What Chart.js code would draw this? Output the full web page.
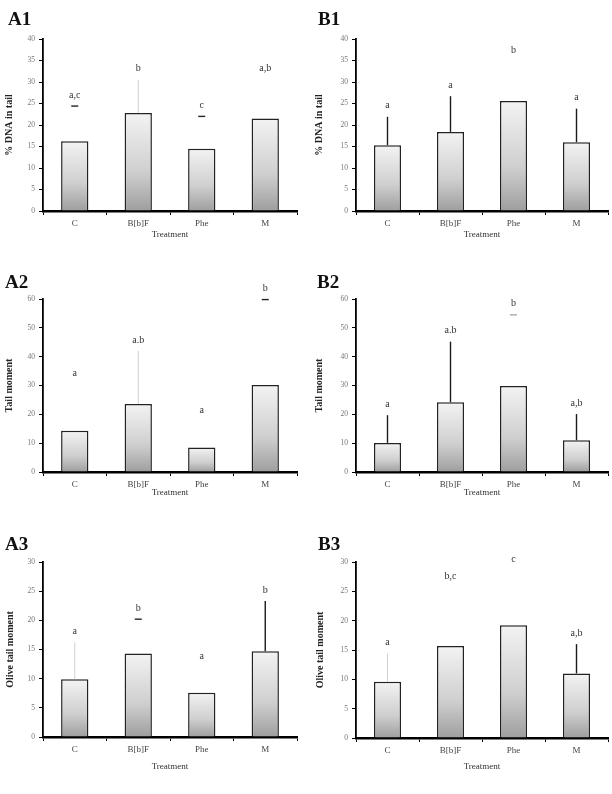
<!DOCTYPE html>
<html>
<head>
<meta charset="utf-8">
<script src="https://cdn.jsdelivr.net/npm/chart.js@4.4.1/dist/chart.umd.min.js"></script>
<style>
  body { margin: 0; background: #fff; }
  #page { position: relative; width: 612px; height: 794px; overflow: hidden; }
  canvas { position: absolute; }
  .tag { position: absolute; font: bold 19px 'Liberation Serif', serif; line-height: 1; color: #111; }
</style>
</head>
<body>
<div id="page">
  <canvas id="a1" width="306" height="255" style="left:0;top:0"></canvas>
  <canvas id="b1" width="306" height="255" style="left:306px;top:0"></canvas>
  <canvas id="a2" width="306" height="260" style="left:0;top:255px"></canvas>
  <canvas id="b2" width="306" height="260" style="left:306px;top:255px"></canvas>
  <canvas id="a3" width="306" height="279" style="left:0;top:515px"></canvas>
  <canvas id="b3" width="306" height="279" style="left:306px;top:515px"></canvas>
  <div class="tag" style="left:8px;top:9px">A1</div>
  <div class="tag" style="left:318px;top:9px">B1</div>
  <div class="tag" style="left:5px;top:272px">A2</div>
  <div class="tag" style="left:317px;top:272px">B2</div>
  <div class="tag" style="left:5px;top:534px">A3</div>
  <div class="tag" style="left:318px;top:534px">B3</div>
</div>
<script>
// data (means, SD, significance letters)
var categories = ['C', 'B[b]F', 'Phe', 'M'];

var ticksDna = [0, 5, 10, 15, 20, 25, 30, 35, 40];
var ticksTail = [0, 10, 20, 30, 40, 50, 60];
var ticksOlive = [0, 5, 10, 15, 20, 25, 30];

var a1Mean = [16.2, 22.8, 14.5, 21.5];
var a1Sd = [8.2, 7.7, 7.5, 9.2];
var a1Letters = ['a,c', 'b', 'c', 'a,b'];

var b1Mean = [15.3, 18.4, 25.6, 16.0];
var b1Sd = [6.6, 8.3, 9.1, 7.8];
var b1Letters = ['a', 'a', 'b', 'a'];

var a2Mean = [14.3, 23.6, 8.5, 30.2];
var a2Sd = [16.2, 18.4, 8.9, 29.6];
var a2Letters = ['a', 'a.b', 'a', 'b'];

var b2Mean = [10.1, 24.2, 29.8, 11.0];
var b2Sd = [9.6, 21.0, 24.7, 9.1];
var b2Letters = ['a', 'a.b', 'b', 'a,b'];

var a3Mean = [9.9, 14.3, 7.6, 14.7];
var a3Sd = [6.3, 5.9, 4.4, 8.6];
var a3Letters = ['a', 'b', 'a', 'b'];

var b3Mean = [9.6, 15.7, 19.2, 11.0];
var b3Sd = [4.8, 10.0, 9.4, 5.0];
var b3Letters = ['a', 'b,c', 'c', 'a,b'];

// how each error bar looks in the scan (some are faded out)
var a1Err = ['cap', 'faint', 'cap', 'none'];
var b1Err = ['black', 'black', 'none', 'black'];
var a2Err = ['none', 'faint', 'none', 'cap'];
var b2Err = ['black', 'black', 'capfaint', 'black'];
var a3Err = ['faint', 'cap', 'none', 'black'];
var b3Err = ['faint', 'none', 'none', 'black'];

var serif = "'Liberation Serif', 'Times New Roman', serif";

// error bars + letters above each bar
var marksPlugin = {
    id: 'marks',
    afterDatasetsDraw: function(chart, args, opts) {
        var c = chart.ctx, y = chart.scales.y;
        var meta = chart.getDatasetMeta(0);
        var values = chart.data.datasets[0].data;
        c.save();
        meta.data.forEach(function(bar, i) {
            var x = bar.x;
            var yBar = y.getPixelForValue(values[i]);
            var yTop = y.getPixelForValue(values[i] + opts.sd[i]);
            var kind = opts.err[i];
            if (kind == 'black' || kind == 'faint') {
                c.strokeStyle = kind == 'black' ? '#1a1a1a' : '#d0d0d0';
                c.lineWidth = kind == 'black' ? 1.4 : 1;
                c.beginPath();
                c.moveTo(x, yBar);
                c.lineTo(x, yTop);
                c.stroke();
            } else if (kind == 'cap' || kind == 'capfaint') {
                c.strokeStyle = kind == 'cap' ? '#222' : '#aaa';
                c.lineWidth = 1.4;
                c.beginPath();
                c.moveTo(x - 3.5, yTop);
                c.lineTo(x + 3.5, yTop);
                c.stroke();
            }
            c.fillStyle = '#333';
            c.font = '10px ' + serif;
            c.textAlign = 'center';
            c.textBaseline = 'middle';
            c.fillText(opts.letters[i], x, yTop - 11);
        });
        c.restore();
    }
};

function barFill(ctx) {
    var chart = ctx.chart, area = chart.chartArea;
    if (!area) return '#ccc';
    var top = chart.scales.y.getPixelForValue(ctx.raw);
    var g = chart.ctx.createLinearGradient(0, top, 0, area.bottom);
    g.addColorStop(0, '#f3f3f3');
    g.addColorStop(0.6, '#cfcfcf');
    g.addColorStop(1, '#9e9e9e');
    return g;
}

// p: plot box inside the canvas (left, top, right, bottom), titleY = centre of "Treatment"
function panel(id, mean, sd, letters, err, ticks, yTitle, p) {
    var cv = document.getElementById(id);
    var titleLH = 9 * 1.2;
    var xh = p.titleY + titleLH / 2 - p.bottom;
    return new Chart(cv.getContext('2d'), {
        type: 'bar',
        data: {
            labels: categories,
            datasets: [{
                data: mean,
                backgroundColor: barFill,
                borderColor: '#222',
                borderWidth: 1.5,
                borderSkipped: 'bottom',
                categoryPercentage: 1,
                barPercentage: 0.43
            }]
        },
        options: {
            responsive: false,
            animation: false,
            layout: {
                padding: {
                    left: 0,
                    top: p.top,
                    right: cv.width - p.right,
                    bottom: cv.height - p.bottom - xh
                }
            },
            plugins: {
                legend: { display: false },
                tooltip: { enabled: false },
                marks: { sd: sd, letters: letters, err: err }
            },
            scales: {
                x: {
                    offset: true,
                    border: { color: '#000', width: 2.5 },
                    grid: { offset: true, drawOnChartArea: false, tickLength: 4, color: '#000', tickWidth: 1 },
                    ticks: { color: '#444', padding: 3, font: { family: serif, size: 9 } },
                    title: { display: true, text: 'Treatment', color: '#333', padding: 0, font: { family: serif, size: 9 } },
                    afterFit: function(axis) { axis.height = xh; }
                },
                y: {
                    min: ticks[0],
                    max: ticks[ticks.length - 1],
                    afterBuildTicks: function(axis) {
                        axis.ticks = ticks.map(function(v) { return { value: v }; });
                    },
                    border: { color: '#000', width: 1.8 },
                    grid: { drawOnChartArea: false, tickLength: 4, color: '#000', tickWidth: 1 },
                    ticks: { color: '#777', padding: 4, font: { family: serif, size: 7.5 } },
                    title: { display: true, text: yTitle, color: '#222', padding: { top: p.yTitlePad, bottom: 0 }, font: { family: serif, size: 10, weight: 'bold' } },
                    afterFit: function(axis) { axis.width = p.left; }
                }
            }
        },
        plugins: [marksPlugin]
    });
}

panel('a1', a1Mean, a1Sd, a1Letters, a1Err, ticksDna, '% DNA in tail',
    { left: 43, top: 39, right: 297, bottom: 211, titleY: 235, yTitlePad: 3 });
panel('b1', b1Mean, b1Sd, b1Letters, b1Err, ticksDna, '% DNA in tail',
    { left: 50, top: 39, right: 302, bottom: 211, titleY: 235, yTitlePad: 7 });
panel('a2', a2Mean, a2Sd, a2Letters, a2Err, ticksTail, 'Tail moment',
    { left: 43, top: 44, right: 297, bottom: 217, titleY: 238, yTitlePad: 3 });
panel('b2', b2Mean, b2Sd, b2Letters, b2Err, ticksTail, 'Tail moment',
    { left: 50, top: 44, right: 302, bottom: 217, titleY: 238, yTitlePad: 7 });
panel('a3', a3Mean, a3Sd, a3Letters, a3Err, ticksOlive, 'Olive tail moment',
    { left: 43, top: 47, right: 297, bottom: 222, titleY: 252, yTitlePad: 4 });
panel('b3', b3Mean, b3Sd, b3Letters, b3Err, ticksOlive, 'Olive tail moment',
    { left: 50, top: 47, right: 302, bottom: 223, titleY: 252, yTitlePad: 8 });
</script>
</body>
</html>
